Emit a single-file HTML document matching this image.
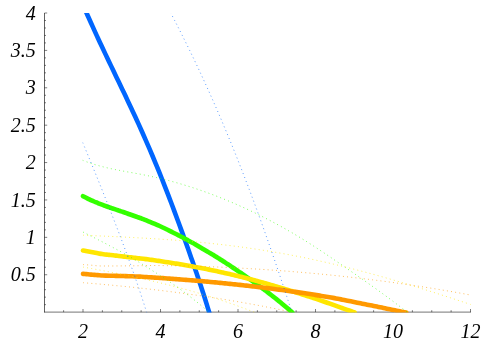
<!DOCTYPE html>
<html><head><meta charset="utf-8"><title>Plot</title>
<style>
html,body{margin:0;padding:0;background:#fff;}
body{width:491px;height:344px;overflow:hidden;font-family:"Liberation Serif",serif;}
svg{display:block;}
</style></head><body>
<svg width="491" height="344" viewBox="0 0 491 344">
<defs><clipPath id="c"><rect x="0.00" y="12.90" width="491.00" height="299.70"/></clipPath><mask id="m"><rect width="491" height="344" fill="#fff"/></mask></defs>
<rect width="491" height="344" fill="#fff"/>
<g stroke="#000" stroke-width="0.62" fill="none">
<line x1="44.50" y1="13.00" x2="44.50" y2="312.41"/>
<line x1="44.19" y1="312.10" x2="471.00" y2="312.10" stroke-width="0.55"/>
<line x1="63.62" y1="312.10" x2="63.62" y2="310.20" stroke-width="0.5"/>
<line x1="83.00" y1="312.10" x2="83.00" y2="309.00" stroke-width="0.5"/>
<line x1="102.38" y1="312.10" x2="102.38" y2="310.20" stroke-width="0.5"/>
<line x1="121.75" y1="312.10" x2="121.75" y2="310.20" stroke-width="0.5"/>
<line x1="141.12" y1="312.10" x2="141.12" y2="310.20" stroke-width="0.5"/>
<line x1="160.50" y1="312.10" x2="160.50" y2="309.00" stroke-width="0.5"/>
<line x1="179.88" y1="312.10" x2="179.88" y2="310.20" stroke-width="0.5"/>
<line x1="199.25" y1="312.10" x2="199.25" y2="310.20" stroke-width="0.5"/>
<line x1="218.62" y1="312.10" x2="218.62" y2="310.20" stroke-width="0.5"/>
<line x1="238.00" y1="312.10" x2="238.00" y2="309.00" stroke-width="0.5"/>
<line x1="257.38" y1="312.10" x2="257.38" y2="310.20" stroke-width="0.5"/>
<line x1="276.75" y1="312.10" x2="276.75" y2="310.20" stroke-width="0.5"/>
<line x1="296.12" y1="312.10" x2="296.12" y2="310.20" stroke-width="0.5"/>
<line x1="315.50" y1="312.10" x2="315.50" y2="309.00" stroke-width="0.5"/>
<line x1="334.88" y1="312.10" x2="334.88" y2="310.20" stroke-width="0.5"/>
<line x1="354.25" y1="312.10" x2="354.25" y2="310.20" stroke-width="0.5"/>
<line x1="373.62" y1="312.10" x2="373.62" y2="310.20" stroke-width="0.5"/>
<line x1="393.00" y1="312.10" x2="393.00" y2="309.00" stroke-width="0.5"/>
<line x1="412.38" y1="312.10" x2="412.38" y2="310.20" stroke-width="0.5"/>
<line x1="431.75" y1="312.10" x2="431.75" y2="310.20" stroke-width="0.5"/>
<line x1="451.12" y1="312.10" x2="451.12" y2="310.20" stroke-width="0.5"/>
<line x1="470.50" y1="312.10" x2="470.50" y2="309.00" stroke-width="0.5"/>
<line x1="44.50" y1="304.65" x2="46.00" y2="304.65" stroke-width="0.5"/>
<line x1="44.50" y1="297.17" x2="46.00" y2="297.17" stroke-width="0.5"/>
<line x1="44.50" y1="289.70" x2="46.00" y2="289.70" stroke-width="0.5"/>
<line x1="44.50" y1="282.22" x2="46.00" y2="282.22" stroke-width="0.5"/>
<line x1="44.50" y1="274.74" x2="47.20" y2="274.74" stroke-width="0.5"/>
<line x1="44.50" y1="267.26" x2="46.00" y2="267.26" stroke-width="0.5"/>
<line x1="44.50" y1="259.78" x2="46.00" y2="259.78" stroke-width="0.5"/>
<line x1="44.50" y1="252.31" x2="46.00" y2="252.31" stroke-width="0.5"/>
<line x1="44.50" y1="244.83" x2="46.00" y2="244.83" stroke-width="0.5"/>
<line x1="44.50" y1="237.35" x2="47.20" y2="237.35" stroke-width="0.5"/>
<line x1="44.50" y1="229.87" x2="46.00" y2="229.87" stroke-width="0.5"/>
<line x1="44.50" y1="222.39" x2="46.00" y2="222.39" stroke-width="0.5"/>
<line x1="44.50" y1="214.92" x2="46.00" y2="214.92" stroke-width="0.5"/>
<line x1="44.50" y1="207.44" x2="46.00" y2="207.44" stroke-width="0.5"/>
<line x1="44.50" y1="199.96" x2="47.20" y2="199.96" stroke-width="0.5"/>
<line x1="44.50" y1="192.48" x2="46.00" y2="192.48" stroke-width="0.5"/>
<line x1="44.50" y1="185.00" x2="46.00" y2="185.00" stroke-width="0.5"/>
<line x1="44.50" y1="177.53" x2="46.00" y2="177.53" stroke-width="0.5"/>
<line x1="44.50" y1="170.05" x2="46.00" y2="170.05" stroke-width="0.5"/>
<line x1="44.50" y1="162.57" x2="47.20" y2="162.57" stroke-width="0.5"/>
<line x1="44.50" y1="155.09" x2="46.00" y2="155.09" stroke-width="0.5"/>
<line x1="44.50" y1="147.61" x2="46.00" y2="147.61" stroke-width="0.5"/>
<line x1="44.50" y1="140.14" x2="46.00" y2="140.14" stroke-width="0.5"/>
<line x1="44.50" y1="132.66" x2="46.00" y2="132.66" stroke-width="0.5"/>
<line x1="44.50" y1="125.18" x2="47.20" y2="125.18" stroke-width="0.5"/>
<line x1="44.50" y1="117.70" x2="46.00" y2="117.70" stroke-width="0.5"/>
<line x1="44.50" y1="110.22" x2="46.00" y2="110.22" stroke-width="0.5"/>
<line x1="44.50" y1="102.75" x2="46.00" y2="102.75" stroke-width="0.5"/>
<line x1="44.50" y1="95.27" x2="46.00" y2="95.27" stroke-width="0.5"/>
<line x1="44.50" y1="87.79" x2="47.20" y2="87.79" stroke-width="0.5"/>
<line x1="44.50" y1="80.31" x2="46.00" y2="80.31" stroke-width="0.5"/>
<line x1="44.50" y1="72.83" x2="46.00" y2="72.83" stroke-width="0.5"/>
<line x1="44.50" y1="65.36" x2="46.00" y2="65.36" stroke-width="0.5"/>
<line x1="44.50" y1="57.88" x2="46.00" y2="57.88" stroke-width="0.5"/>
<line x1="44.50" y1="50.40" x2="47.20" y2="50.40" stroke-width="0.5"/>
<line x1="44.50" y1="42.92" x2="46.00" y2="42.92" stroke-width="0.5"/>
<line x1="44.50" y1="35.44" x2="46.00" y2="35.44" stroke-width="0.5"/>
<line x1="44.50" y1="27.97" x2="46.00" y2="27.97" stroke-width="0.5"/>
<line x1="44.50" y1="20.49" x2="46.00" y2="20.49" stroke-width="0.5"/>
<line x1="44.50" y1="13.01" x2="47.20" y2="13.01" stroke-width="0.5"/>
</g>
<g clip-path="url(#c)" fill="none" stroke-linejoin="round">
<path d="M83.81 6.85 C84.39 8.16 86.13 12.08 87.30 14.69 C88.47 17.30 89.63 19.91 90.81 22.52 C91.99 25.13 93.18 27.75 94.37 30.36 C95.56 32.97 96.76 35.59 97.97 38.20 C99.18 40.81 100.41 43.43 101.63 46.04 C102.85 48.65 104.08 51.26 105.32 53.87 C106.56 56.48 107.80 59.10 109.05 61.71 C110.30 64.32 111.56 66.94 112.81 69.55 C114.06 72.16 115.31 74.77 116.57 77.38 C117.82 79.99 119.09 82.61 120.34 85.22 C121.59 87.83 122.84 90.45 124.09 93.06 C125.34 95.67 126.58 98.29 127.81 100.90 C129.05 103.51 130.28 106.12 131.50 108.73 C132.72 111.34 133.94 113.96 135.14 116.57 C136.34 119.18 137.54 121.80 138.73 124.41 C139.91 127.02 141.09 129.63 142.25 132.24 C143.41 134.85 144.57 137.47 145.71 140.08 C146.85 142.69 147.99 145.31 149.11 147.92 C150.23 150.53 151.34 153.15 152.44 155.76 C153.54 158.37 154.62 160.98 155.70 163.59 C156.78 166.20 157.85 168.82 158.91 171.43 C159.97 174.04 161.01 176.66 162.05 179.27 C163.09 181.88 164.12 184.50 165.14 187.11 C166.16 189.72 167.17 192.33 168.18 194.94 C169.19 197.55 170.19 200.17 171.18 202.78 C172.17 205.39 173.15 208.01 174.13 210.62 C175.11 213.23 176.08 215.84 177.05 218.45 C178.02 221.06 178.97 223.68 179.93 226.29 C180.89 228.90 181.84 231.52 182.79 234.13 C183.74 236.74 184.67 239.36 185.61 241.97 C186.55 244.58 187.48 247.19 188.41 249.80 C189.34 252.41 190.25 255.03 191.17 257.64 C192.08 260.25 193.00 262.87 193.90 265.48 C194.80 268.09 195.70 270.70 196.59 273.31 C197.48 275.92 198.37 278.54 199.24 281.15 C200.11 283.76 200.98 286.38 201.83 288.99 C202.69 291.60 203.54 294.22 204.37 296.83 C205.20 299.44 206.02 302.05 206.83 304.66 C207.64 307.27 208.83 311.19 209.23 312.50" stroke="#0066FF" stroke-width="4.6" stroke-linecap="round"/>
<path d="M83.00 196.16 C83.35 196.35 84.41 196.92 85.11 197.28 C85.81 197.64 86.53 198.00 87.23 198.34 C87.94 198.69 88.64 199.02 89.34 199.35 C90.05 199.68 90.75 200.01 91.46 200.33 C92.16 200.65 92.87 200.95 93.57 201.26 C94.27 201.56 94.98 201.87 95.68 202.16 C96.39 202.45 97.09 202.75 97.80 203.03 C98.50 203.31 99.20 203.59 99.91 203.86 C100.61 204.14 101.33 204.41 102.03 204.68 C102.73 204.95 103.44 205.21 104.14 205.47 C104.84 205.73 105.56 205.99 106.26 206.24 C106.97 206.49 107.67 206.74 108.37 206.99 C109.07 207.24 109.78 207.48 110.48 207.73 C111.19 207.97 111.89 208.22 112.60 208.46 C113.30 208.70 114.00 208.94 114.71 209.18 C115.41 209.42 116.12 209.66 116.83 209.90 C117.53 210.14 118.24 210.38 118.94 210.62 C119.64 210.86 120.34 211.09 121.05 211.33 C121.75 211.57 122.47 211.81 123.17 212.05 C123.88 212.29 124.58 212.53 125.28 212.77 C125.98 213.01 126.70 213.25 127.40 213.49 C128.11 213.73 128.81 213.97 129.51 214.22 C130.21 214.47 130.92 214.71 131.63 214.96 C132.34 215.21 133.04 215.46 133.74 215.71 C134.44 215.96 135.14 216.22 135.85 216.47 C136.56 216.72 137.26 216.98 137.97 217.24 C138.68 217.50 139.38 217.76 140.08 218.02 C140.79 218.28 141.50 218.55 142.20 218.82 C142.90 219.09 143.61 219.36 144.31 219.63 C145.01 219.90 145.71 220.17 146.42 220.45 C147.12 220.73 147.83 221.01 148.54 221.29 C149.25 221.57 149.94 221.86 150.65 222.15 C151.36 222.44 152.06 222.73 152.77 223.03 C153.48 223.33 154.18 223.63 154.88 223.93 C155.58 224.23 156.28 224.53 156.99 224.84 C157.70 225.15 158.41 225.46 159.11 225.78 C159.81 226.10 160.51 226.42 161.22 226.74 C161.93 227.06 162.63 227.39 163.34 227.73 C164.05 228.07 164.75 228.41 165.45 228.76 C166.15 229.11 166.86 229.46 167.57 229.81 C168.28 230.16 168.98 230.52 169.68 230.87 C170.38 231.22 171.08 231.58 171.79 231.93 C172.50 232.28 173.20 232.64 173.91 232.99 C174.62 233.34 175.31 233.69 176.02 234.04 C176.73 234.39 177.44 234.75 178.14 235.11 C178.84 235.47 179.55 235.82 180.25 236.19 C180.95 236.56 181.66 236.93 182.36 237.30 C183.06 237.67 183.77 238.04 184.48 238.42 C185.19 238.80 185.88 239.18 186.59 239.56 C187.30 239.94 188.00 240.33 188.71 240.72 C189.42 241.11 190.12 241.50 190.82 241.89 C191.52 242.28 192.23 242.68 192.94 243.08 C193.65 243.48 194.35 243.88 195.05 244.29 C195.75 244.69 196.45 245.10 197.16 245.51 C197.87 245.92 198.57 246.33 199.28 246.75 C199.99 247.17 200.69 247.59 201.39 248.01 C202.09 248.43 202.80 248.86 203.51 249.28 C204.22 249.70 204.92 250.12 205.62 250.53 C206.32 250.94 207.02 251.35 207.73 251.76 C208.44 252.17 209.14 252.57 209.85 252.98 C210.56 253.39 211.25 253.80 211.96 254.22 C212.67 254.64 213.38 255.05 214.08 255.48 C214.79 255.91 215.49 256.34 216.19 256.78 C216.89 257.22 217.61 257.67 218.31 258.11 C219.01 258.56 219.72 259.00 220.42 259.45 C221.12 259.90 221.82 260.35 222.53 260.80 C223.24 261.25 223.94 261.71 224.65 262.17 C225.36 262.63 226.06 263.09 226.76 263.55 C227.46 264.01 228.17 264.48 228.88 264.94 C229.59 265.40 230.29 265.87 230.99 266.34 C231.69 266.81 232.39 267.28 233.10 267.75 C233.81 268.22 234.51 268.69 235.22 269.17 C235.93 269.65 236.62 270.12 237.33 270.60 C238.04 271.08 238.75 271.56 239.45 272.04 C240.15 272.52 240.86 273.00 241.56 273.49 C242.26 273.98 242.96 274.46 243.67 274.95 C244.38 275.44 245.08 275.93 245.79 276.42 C246.50 276.91 247.19 277.41 247.90 277.91 C248.61 278.41 249.31 278.90 250.02 279.40 C250.73 279.90 251.43 280.40 252.13 280.90 C252.83 281.40 253.54 281.90 254.25 282.40 C254.96 282.90 255.66 283.41 256.36 283.92 C257.06 284.43 257.77 284.94 258.47 285.45 C259.18 285.96 259.88 286.47 260.59 286.98 C261.29 287.50 262.00 288.02 262.70 288.54 C263.40 289.06 264.12 289.59 264.82 290.12 C265.52 290.65 266.23 291.17 266.93 291.71 C267.63 292.25 268.34 292.78 269.04 293.33 C269.75 293.88 270.46 294.43 271.16 294.98 C271.87 295.53 272.56 296.08 273.27 296.64 C273.97 297.20 274.69 297.76 275.39 298.32 C276.09 298.88 276.80 299.45 277.50 300.02 C278.20 300.59 278.92 301.16 279.62 301.73 C280.32 302.31 281.03 302.89 281.73 303.47 C282.43 304.05 283.13 304.63 283.84 305.22 C284.54 305.81 285.25 306.40 285.96 307.00 C286.66 307.60 287.37 308.20 288.07 308.81 C288.77 309.42 289.49 310.02 290.19 310.64 C290.89 311.25 291.95 312.19 292.30 312.50" stroke="#33FF00" stroke-width="4.6" stroke-linecap="round"/>
<path d="M83.00 250.52 C83.46 250.61 84.82 250.88 85.74 251.05 C86.66 251.23 87.57 251.40 88.49 251.57 C89.41 251.74 90.32 251.91 91.23 252.08 C92.14 252.25 93.06 252.41 93.97 252.58 C94.88 252.75 95.81 252.93 96.72 253.10 C97.63 253.27 98.55 253.46 99.46 253.62 C100.37 253.78 101.28 253.94 102.20 254.08 C103.12 254.22 104.03 254.34 104.95 254.45 C105.87 254.56 106.78 254.64 107.69 254.73 C108.60 254.82 109.52 254.90 110.43 254.99 C111.35 255.09 112.27 255.20 113.18 255.30 C114.09 255.41 115.01 255.51 115.92 255.62 C116.83 255.73 117.75 255.84 118.66 255.95 C119.57 256.06 120.49 256.17 121.41 256.28 C122.33 256.39 123.24 256.50 124.15 256.61 C125.06 256.72 125.98 256.83 126.89 256.94 C127.80 257.05 128.72 257.15 129.64 257.26 C130.55 257.37 131.47 257.47 132.38 257.57 C133.29 257.67 134.22 257.77 135.13 257.88 C136.04 257.99 136.96 258.09 137.87 258.20 C138.78 258.31 139.70 258.41 140.61 258.52 C141.53 258.62 142.45 258.72 143.36 258.83 C144.28 258.94 145.19 259.04 146.10 259.15 C147.01 259.26 147.93 259.38 148.84 259.50 C149.75 259.62 150.68 259.74 151.59 259.87 C152.50 260.00 153.42 260.13 154.33 260.26 C155.24 260.39 156.16 260.53 157.07 260.66 C157.98 260.79 158.91 260.92 159.82 261.06 C160.73 261.20 161.65 261.34 162.56 261.48 C163.47 261.62 164.39 261.76 165.30 261.90 C166.22 262.04 167.14 262.18 168.05 262.32 C168.97 262.46 169.88 262.61 170.79 262.75 C171.70 262.89 172.62 263.04 173.53 263.19 C174.44 263.34 175.37 263.48 176.28 263.63 C177.19 263.78 178.11 263.93 179.02 264.08 C179.93 264.23 180.84 264.39 181.76 264.54 C182.67 264.69 183.59 264.84 184.51 265.00 C185.42 265.16 186.34 265.32 187.25 265.48 C188.16 265.64 189.08 265.80 189.99 265.96 C190.91 266.12 191.83 266.29 192.74 266.46 C193.66 266.63 194.57 266.79 195.48 266.96 C196.39 267.13 197.31 267.30 198.22 267.47 C199.13 267.64 200.06 267.82 200.97 268.00 C201.88 268.18 202.80 268.35 203.71 268.53 C204.62 268.71 205.53 268.89 206.45 269.07 C207.36 269.25 208.28 269.43 209.20 269.62 C210.11 269.81 211.03 270.00 211.94 270.19 C212.85 270.38 213.77 270.57 214.68 270.76 C215.59 270.95 216.52 271.15 217.43 271.35 C218.34 271.55 219.25 271.74 220.17 271.94 C221.08 272.14 222.00 272.35 222.92 272.55 C223.83 272.75 224.75 272.95 225.66 273.16 C226.57 273.37 227.49 273.58 228.40 273.79 C229.31 274.00 230.24 274.22 231.15 274.43 C232.06 274.64 232.98 274.86 233.89 275.08 C234.80 275.30 235.72 275.52 236.63 275.74 C237.54 275.96 238.47 276.19 239.38 276.41 C240.29 276.63 241.21 276.86 242.12 277.09 C243.03 277.32 243.95 277.56 244.86 277.79 C245.78 278.02 246.70 278.25 247.61 278.49 C248.53 278.73 249.44 278.97 250.35 279.21 C251.26 279.45 252.18 279.69 253.09 279.93 C254.00 280.17 254.93 280.42 255.84 280.67 C256.75 280.92 257.67 281.17 258.58 281.42 C259.49 281.67 260.40 281.93 261.32 282.18 C262.24 282.44 263.15 282.69 264.07 282.95 C264.99 283.21 265.90 283.46 266.81 283.72 C267.72 283.98 268.63 284.25 269.55 284.51 C270.47 284.77 271.38 285.04 272.30 285.31 C273.22 285.58 274.13 285.84 275.04 286.11 C275.95 286.38 276.87 286.65 277.78 286.92 C278.69 287.19 279.61 287.46 280.53 287.73 C281.44 288.00 282.36 288.27 283.27 288.54 C284.18 288.81 285.09 289.09 286.01 289.36 C286.93 289.63 287.84 289.91 288.76 290.19 C289.68 290.47 290.59 290.74 291.50 291.02 C292.41 291.30 293.32 291.58 294.24 291.86 C295.16 292.14 296.07 292.44 296.99 292.72 C297.91 293.00 298.82 293.28 299.73 293.57 C300.64 293.86 301.56 294.15 302.47 294.44 C303.39 294.73 304.31 295.02 305.22 295.32 C306.13 295.62 307.04 295.91 307.96 296.21 C308.88 296.51 309.79 296.81 310.71 297.11 C311.62 297.41 312.54 297.71 313.45 298.02 C314.36 298.32 315.27 298.63 316.19 298.94 C317.11 299.25 318.02 299.57 318.94 299.88 C319.86 300.19 320.77 300.50 321.68 300.82 C322.59 301.14 323.50 301.46 324.42 301.78 C325.34 302.10 326.25 302.41 327.17 302.73 C328.09 303.05 329.00 303.37 329.91 303.69 C330.82 304.01 331.74 304.34 332.65 304.66 C333.56 304.98 334.48 305.31 335.40 305.63 C336.31 305.95 337.23 306.29 338.14 306.61 C339.05 306.94 339.96 307.25 340.88 307.58 C341.80 307.90 342.71 308.23 343.63 308.56 C344.55 308.89 345.46 309.21 346.37 309.54 C347.28 309.87 348.19 310.20 349.11 310.53 C350.03 310.86 350.94 311.18 351.86 311.51 C352.78 311.84 354.14 312.33 354.60 312.50" stroke="#FFE600" stroke-width="4.6" stroke-linecap="round"/>
<path d="M83.00 273.86 C83.55 273.91 85.18 274.06 86.27 274.16 C87.36 274.26 88.44 274.36 89.53 274.45 C90.62 274.54 91.71 274.63 92.80 274.72 C93.89 274.81 94.97 274.89 96.06 274.97 C97.15 275.05 98.24 275.14 99.33 275.22 C100.42 275.30 101.50 275.38 102.59 275.44 C103.68 275.50 104.77 275.56 105.86 275.60 C106.95 275.64 108.04 275.67 109.13 275.70 C110.22 275.73 111.30 275.75 112.39 275.78 C113.48 275.81 114.57 275.83 115.66 275.86 C116.75 275.89 117.83 275.92 118.92 275.94 C120.01 275.96 121.10 275.99 122.19 276.01 C123.28 276.03 124.36 276.06 125.45 276.09 C126.54 276.12 127.63 276.15 128.72 276.19 C129.81 276.23 130.89 276.26 131.98 276.30 C133.07 276.34 134.16 276.38 135.25 276.43 C136.34 276.48 137.43 276.52 138.52 276.58 C139.61 276.64 140.69 276.70 141.78 276.77 C142.87 276.83 143.96 276.90 145.05 276.97 C146.14 277.04 147.22 277.11 148.31 277.18 C149.40 277.25 150.49 277.31 151.58 277.38 C152.67 277.45 153.75 277.53 154.84 277.60 C155.93 277.67 157.02 277.74 158.11 277.81 C159.20 277.88 160.29 277.97 161.38 278.04 C162.47 278.12 163.55 278.19 164.64 278.26 C165.73 278.33 166.82 278.41 167.91 278.49 C169.00 278.57 170.08 278.65 171.17 278.73 C172.26 278.81 173.35 278.89 174.44 278.97 C175.53 279.05 176.61 279.13 177.70 279.21 C178.79 279.29 179.88 279.38 180.97 279.46 C182.06 279.54 183.15 279.63 184.24 279.72 C185.33 279.81 186.41 279.89 187.50 279.98 C188.59 280.07 189.68 280.16 190.77 280.25 C191.86 280.34 192.94 280.43 194.03 280.52 C195.12 280.61 196.21 280.70 197.30 280.79 C198.39 280.88 199.47 280.98 200.56 281.07 C201.65 281.16 202.74 281.26 203.83 281.36 C204.92 281.46 206.00 281.55 207.09 281.65 C208.18 281.75 209.27 281.85 210.36 281.95 C211.45 282.05 212.54 282.15 213.63 282.25 C214.72 282.35 215.80 282.45 216.89 282.56 C217.98 282.67 219.07 282.77 220.16 282.88 C221.25 282.99 222.33 283.09 223.42 283.20 C224.51 283.31 225.60 283.42 226.69 283.53 C227.78 283.64 228.86 283.75 229.95 283.86 C231.04 283.97 232.13 284.09 233.22 284.20 C234.31 284.31 235.40 284.43 236.49 284.54 C237.58 284.66 238.66 284.77 239.75 284.89 C240.84 285.01 241.93 285.13 243.02 285.25 C244.11 285.37 245.19 285.50 246.28 285.62 C247.37 285.74 248.46 285.87 249.55 285.99 C250.64 286.11 251.72 286.23 252.81 286.36 C253.90 286.49 254.99 286.62 256.08 286.75 C257.17 286.88 258.26 287.01 259.35 287.14 C260.44 287.27 261.52 287.41 262.61 287.54 C263.70 287.67 264.79 287.81 265.88 287.94 C266.97 288.07 268.05 288.21 269.14 288.35 C270.23 288.49 271.32 288.63 272.41 288.77 C273.50 288.91 274.58 289.05 275.67 289.19 C276.76 289.33 277.85 289.49 278.94 289.63 C280.03 289.77 281.12 289.91 282.21 290.06 C283.30 290.21 284.38 290.36 285.47 290.51 C286.56 290.66 287.65 290.81 288.74 290.96 C289.83 291.11 290.91 291.26 292.00 291.42 C293.09 291.58 294.18 291.73 295.27 291.89 C296.36 292.05 297.44 292.21 298.53 292.37 C299.62 292.53 300.71 292.69 301.80 292.85 C302.89 293.01 303.97 293.17 305.06 293.34 C306.15 293.50 307.24 293.67 308.33 293.84 C309.42 294.01 310.51 294.17 311.60 294.34 C312.69 294.51 313.77 294.68 314.86 294.85 C315.95 295.02 317.04 295.19 318.13 295.37 C319.22 295.55 320.30 295.72 321.39 295.90 C322.48 296.08 323.57 296.26 324.66 296.44 C325.75 296.62 326.83 296.80 327.92 296.98 C329.01 297.16 330.10 297.35 331.19 297.54 C332.28 297.73 333.37 297.92 334.46 298.12 C335.55 298.32 336.63 298.53 337.72 298.74 C338.81 298.95 339.90 299.17 340.99 299.38 C342.08 299.59 343.16 299.81 344.25 300.03 C345.34 300.25 346.43 300.47 347.52 300.68 C348.61 300.89 349.69 301.11 350.78 301.32 C351.87 301.53 352.96 301.75 354.05 301.97 C355.14 302.19 356.23 302.41 357.32 302.63 C358.41 302.85 359.49 303.08 360.58 303.30 C361.67 303.52 362.76 303.75 363.85 303.97 C364.94 304.19 366.02 304.41 367.11 304.63 C368.20 304.85 369.29 305.07 370.38 305.29 C371.47 305.51 372.55 305.72 373.64 305.94 C374.73 306.16 375.82 306.38 376.91 306.60 C378.00 306.82 379.08 307.04 380.17 307.27 C381.26 307.50 382.35 307.72 383.44 307.95 C384.53 308.18 385.62 308.40 386.71 308.63 C387.80 308.86 388.88 309.08 389.97 309.31 C391.06 309.54 392.15 309.77 393.24 310.00 C394.33 310.23 395.41 310.45 396.50 310.67 C397.59 310.89 398.68 311.11 399.77 311.32 C400.86 311.53 401.94 311.74 403.03 311.94 C404.12 312.14 405.75 312.41 406.30 312.50" stroke="#FF9900" stroke-width="4.6" stroke-linecap="round"/>
<path d="M82.79 142.70 C83.09 143.42 83.99 145.60 84.59 147.05 C85.19 148.50 85.79 149.96 86.39 151.41 C86.99 152.86 87.58 154.31 88.18 155.76 C88.78 157.21 89.37 158.67 89.97 160.12 C90.57 161.57 91.17 163.02 91.76 164.47 C92.36 165.92 92.95 167.37 93.54 168.82 C94.13 170.27 94.73 171.73 95.32 173.18 C95.91 174.63 96.50 176.08 97.09 177.53 C97.68 178.98 98.26 180.43 98.85 181.88 C99.44 183.33 100.03 184.79 100.61 186.24 C101.19 187.69 101.78 189.14 102.36 190.59 C102.94 192.04 103.52 193.50 104.10 194.95 C104.68 196.40 105.26 197.85 105.84 199.30 C106.42 200.75 106.99 202.20 107.57 203.65 C108.14 205.10 108.72 206.56 109.29 208.01 C109.86 209.46 110.43 210.91 111.00 212.36 C111.57 213.81 112.14 215.27 112.70 216.72 C113.27 218.17 113.83 219.62 114.39 221.07 C114.95 222.52 115.51 223.97 116.07 225.42 C116.63 226.87 117.19 228.33 117.74 229.78 C118.29 231.23 118.84 232.68 119.39 234.13 C119.94 235.58 120.49 237.03 121.04 238.48 C121.59 239.93 122.13 241.39 122.67 242.84 C123.21 244.29 123.75 245.74 124.29 247.19 C124.83 248.64 125.36 250.10 125.89 251.55 C126.42 253.00 126.95 254.45 127.48 255.90 C128.01 257.35 128.54 258.80 129.06 260.25 C129.58 261.70 130.10 263.16 130.62 264.61 C131.14 266.06 131.66 267.51 132.17 268.96 C132.68 270.41 133.19 271.87 133.70 273.32 C134.21 274.77 134.72 276.22 135.22 277.67 C135.72 279.12 136.21 280.57 136.71 282.02 C137.21 283.47 137.71 284.93 138.20 286.38 C138.69 287.83 139.18 289.28 139.66 290.73 C140.14 292.18 140.62 293.63 141.10 295.08 C141.58 296.53 142.06 297.99 142.53 299.44 C143.00 300.89 143.47 302.34 143.94 303.79 C144.41 305.24 144.86 306.70 145.32 308.15 C145.78 309.60 146.46 311.77 146.69 312.50" stroke="#0066FF" stroke-width="0.9" stroke-dasharray="0.9 3.3" stroke-opacity="0.78"/>
<path d="M170.50 12.50 C171.17 13.78 173.18 17.63 174.51 20.19 C175.84 22.75 177.15 25.31 178.46 27.88 C179.77 30.45 181.06 33.02 182.35 35.58 C183.64 38.14 184.91 40.71 186.18 43.27 C187.45 45.83 188.70 48.40 189.95 50.96 C191.20 53.52 192.44 56.09 193.67 58.65 C194.90 61.21 196.12 63.78 197.33 66.35 C198.54 68.91 199.74 71.48 200.93 74.04 C202.12 76.60 203.31 79.17 204.48 81.73 C205.65 84.29 206.82 86.86 207.98 89.42 C209.14 91.98 210.29 94.56 211.43 97.12 C212.57 99.69 213.71 102.25 214.83 104.81 C215.95 107.37 217.06 109.94 218.17 112.50 C219.28 115.06 220.39 117.63 221.48 120.19 C222.57 122.75 223.65 125.31 224.73 127.88 C225.81 130.44 226.88 133.02 227.94 135.58 C229.00 138.15 230.06 140.71 231.11 143.27 C232.16 145.83 233.20 148.40 234.23 150.96 C235.26 153.52 236.29 156.09 237.31 158.65 C238.33 161.22 239.34 163.78 240.35 166.35 C241.36 168.91 242.36 171.48 243.35 174.04 C244.34 176.60 245.33 179.17 246.31 181.73 C247.29 184.29 248.27 186.85 249.24 189.42 C250.21 191.98 251.17 194.56 252.13 197.12 C253.09 199.69 254.04 202.25 254.99 204.81 C255.94 207.37 256.88 209.94 257.81 212.50 C258.75 215.06 259.68 217.63 260.60 220.19 C261.53 222.75 262.45 225.31 263.36 227.88 C264.27 230.44 265.18 233.02 266.08 235.58 C266.98 238.15 267.88 240.71 268.78 243.27 C269.67 245.83 270.56 248.40 271.45 250.96 C272.34 253.52 273.22 256.08 274.10 258.65 C274.98 261.21 275.85 263.79 276.72 266.35 C277.59 268.92 278.46 271.48 279.32 274.04 C280.18 276.60 281.04 279.17 281.89 281.73 C282.74 284.29 283.59 286.86 284.44 289.42 C285.29 291.99 286.13 294.56 286.97 297.12 C287.81 299.69 288.65 302.25 289.48 304.81 C290.31 307.37 291.56 311.22 291.97 312.50" stroke="#0066FF" stroke-width="0.9" stroke-dasharray="0.9 3.3" stroke-opacity="0.78"/>
<path d="M82.70 160.31 C83.39 160.57 85.44 161.38 86.81 161.88 C88.18 162.38 89.56 162.85 90.93 163.31 C92.30 163.77 93.67 164.20 95.04 164.61 C96.41 165.02 97.78 165.41 99.15 165.79 C100.52 166.17 101.89 166.53 103.26 166.87 C104.63 167.22 106.01 167.54 107.38 167.86 C108.75 168.18 110.12 168.48 111.49 168.78 C112.86 169.08 114.23 169.36 115.60 169.64 C116.97 169.92 118.34 170.18 119.71 170.44 C121.08 170.70 122.46 170.96 123.83 171.21 C125.20 171.46 126.57 171.71 127.94 171.96 C129.31 172.21 130.68 172.45 132.05 172.70 C133.42 172.95 134.79 173.19 136.16 173.44 C137.53 173.69 138.91 173.94 140.28 174.20 C141.65 174.46 143.02 174.73 144.39 175.00 C145.76 175.27 147.13 175.55 148.50 175.83 C149.87 176.12 151.25 176.41 152.62 176.71 C153.99 177.01 155.36 177.32 156.73 177.64 C158.10 177.96 159.47 178.28 160.84 178.61 C162.21 178.94 163.58 179.28 164.95 179.62 C166.32 179.97 167.70 180.32 169.07 180.68 C170.44 181.04 171.81 181.41 173.18 181.79 C174.55 182.17 175.92 182.55 177.29 182.94 C178.66 183.33 180.03 183.73 181.40 184.14 C182.77 184.55 184.15 184.96 185.52 185.38 C186.89 185.80 188.26 186.22 189.63 186.66 C191.00 187.09 192.37 187.54 193.74 187.99 C195.11 188.44 196.48 188.90 197.85 189.36 C199.22 189.83 200.60 190.30 201.97 190.78 C203.34 191.26 204.71 191.75 206.08 192.24 C207.45 192.74 208.82 193.24 210.19 193.75 C211.56 194.26 212.94 194.78 214.31 195.30 C215.68 195.82 217.05 196.35 218.42 196.89 C219.79 197.43 221.16 197.98 222.53 198.53 C223.90 199.08 225.27 199.64 226.64 200.21 C228.01 200.78 229.39 201.35 230.76 201.93 C232.13 202.51 233.50 203.10 234.87 203.70 C236.24 204.30 237.61 204.90 238.98 205.51 C240.35 206.12 241.72 206.74 243.09 207.36 C244.46 207.98 245.84 208.61 247.21 209.25 C248.58 209.89 249.95 210.54 251.32 211.19 C252.69 211.84 254.06 212.50 255.43 213.17 C256.80 213.84 258.17 214.52 259.54 215.20 C260.91 215.88 262.29 216.56 263.66 217.26 C265.03 217.95 266.40 218.66 267.77 219.37 C269.14 220.08 270.51 220.80 271.88 221.53 C273.25 222.26 274.62 222.99 275.99 223.73 C277.36 224.47 278.74 225.21 280.11 225.97 C281.48 226.73 282.85 227.50 284.22 228.27 C285.59 229.04 286.96 229.82 288.33 230.61 C289.70 231.40 291.08 232.19 292.45 232.99 C293.82 233.79 295.19 234.61 296.56 235.43 C297.93 236.25 299.30 237.08 300.67 237.92 C302.04 238.76 303.41 239.60 304.78 240.45 C306.15 241.30 307.53 242.17 308.90 243.04 C310.27 243.91 311.64 244.79 313.01 245.67 C314.38 246.55 315.75 247.44 317.12 248.34 C318.49 249.24 319.86 250.13 321.23 251.04 C322.60 251.95 323.98 252.86 325.35 253.78 C326.72 254.70 328.09 255.62 329.46 256.55 C330.83 257.48 332.20 258.41 333.57 259.34 C334.94 260.27 336.31 261.21 337.68 262.15 C339.05 263.09 340.43 264.03 341.80 264.97 C343.17 265.91 344.54 266.86 345.91 267.81 C347.28 268.76 348.65 269.71 350.02 270.66 C351.39 271.61 352.77 272.56 354.14 273.51 C355.51 274.46 356.88 275.42 358.25 276.37 C359.62 277.32 360.99 278.27 362.36 279.23 C363.73 280.19 365.10 281.16 366.47 282.12 C367.84 283.08 369.22 284.05 370.59 285.02 C371.96 285.99 373.33 286.96 374.70 287.94 C376.07 288.92 377.44 289.89 378.81 290.88 C380.18 291.87 381.55 292.86 382.92 293.86 C384.29 294.86 385.67 295.85 387.04 296.86 C388.41 297.87 389.78 298.88 391.15 299.90 C392.52 300.92 393.89 301.95 395.26 302.98 C396.63 304.01 398.00 305.05 399.37 306.10 C400.74 307.15 402.12 308.20 403.49 309.27 C404.86 310.33 406.92 311.95 407.60 312.49" stroke="#33FF00" stroke-width="0.9" stroke-dasharray="0.9 3.3" stroke-opacity="0.78"/>
<path d="M83.00 232.04 C83.21 232.15 83.85 232.47 84.27 232.68 C84.69 232.89 85.12 233.11 85.54 233.32 C85.96 233.53 86.38 233.74 86.80 233.95 C87.22 234.16 87.65 234.38 88.07 234.59 C88.49 234.80 88.92 235.02 89.34 235.23 C89.76 235.44 90.19 235.66 90.61 235.87 C91.03 236.09 91.45 236.31 91.87 236.52 C92.29 236.74 92.72 236.94 93.14 237.16 C93.56 237.38 93.99 237.59 94.41 237.81 C94.83 238.03 95.26 238.23 95.68 238.45 C96.10 238.66 96.52 238.88 96.94 239.10 C97.36 239.32 97.79 239.53 98.21 239.75 C98.63 239.97 99.06 240.18 99.48 240.40 C99.90 240.62 100.33 240.84 100.75 241.06 C101.17 241.28 101.60 241.49 102.02 241.71 C102.44 241.93 102.86 242.15 103.28 242.37 C103.70 242.59 104.13 242.81 104.55 243.03 C104.97 243.25 105.40 243.47 105.82 243.69 C106.24 243.91 106.67 244.13 107.09 244.35 C107.51 244.57 107.93 244.80 108.35 245.02 C108.77 245.24 109.20 245.47 109.62 245.69 C110.04 245.91 110.47 246.14 110.89 246.36 C111.31 246.58 111.74 246.81 112.16 247.03 C112.58 247.25 113.00 247.48 113.42 247.71 C113.84 247.94 114.27 248.16 114.69 248.39 C115.11 248.62 115.54 248.84 115.96 249.07 C116.38 249.30 116.81 249.52 117.23 249.75 C117.65 249.98 118.07 250.21 118.49 250.44 C118.91 250.67 119.34 250.90 119.76 251.13 C120.18 251.36 120.61 251.60 121.03 251.83 C121.45 252.06 121.88 252.29 122.30 252.52 C122.72 252.75 123.15 252.99 123.57 253.22 C123.99 253.45 124.41 253.69 124.83 253.93 C125.25 254.17 125.68 254.39 126.10 254.63 C126.52 254.87 126.95 255.10 127.37 255.34 C127.79 255.58 128.22 255.82 128.64 256.06 C129.06 256.30 129.48 256.53 129.90 256.77 C130.32 257.01 130.75 257.25 131.17 257.50 C131.59 257.75 132.02 257.99 132.44 258.24 C132.86 258.49 133.29 258.74 133.71 258.99 C134.13 259.24 134.55 259.49 134.97 259.74 C135.39 259.99 135.82 260.25 136.24 260.51 C136.66 260.77 137.09 261.03 137.51 261.29 C137.93 261.55 138.36 261.81 138.78 262.07 C139.20 262.33 139.63 262.60 140.05 262.86 C140.47 263.12 140.89 263.38 141.31 263.65 C141.73 263.91 142.16 264.19 142.58 264.45 C143.00 264.71 143.43 264.98 143.85 265.24 C144.27 265.50 144.70 265.77 145.12 266.04 C145.54 266.31 145.96 266.57 146.38 266.84 C146.80 267.11 147.23 267.38 147.65 267.64 C148.07 267.90 148.50 268.17 148.92 268.43 C149.34 268.69 149.77 268.96 150.19 269.22 C150.61 269.48 151.03 269.75 151.45 270.01 C151.87 270.27 152.30 270.55 152.72 270.81 C153.14 271.07 153.57 271.34 153.99 271.60 C154.41 271.87 154.84 272.13 155.26 272.40 C155.68 272.67 156.11 272.93 156.53 273.20 C156.95 273.47 157.37 273.74 157.79 274.01 C158.21 274.28 158.64 274.55 159.06 274.82 C159.48 275.09 159.91 275.36 160.33 275.63 C160.75 275.90 161.18 276.18 161.60 276.45 C162.02 276.72 162.44 277.00 162.86 277.28 C163.28 277.56 163.71 277.83 164.13 278.11 C164.55 278.39 164.98 278.67 165.40 278.95 C165.82 279.23 166.25 279.51 166.67 279.79 C167.09 280.07 167.51 280.36 167.93 280.64 C168.35 280.92 168.78 281.21 169.20 281.50 C169.62 281.79 170.05 282.07 170.47 282.36 C170.89 282.65 171.32 282.94 171.74 283.23 C172.16 283.52 172.59 283.82 173.01 284.11 C173.43 284.40 173.85 284.69 174.27 284.99 C174.69 285.29 175.12 285.58 175.54 285.88 C175.96 286.18 176.39 286.47 176.81 286.77 C177.23 287.07 177.66 287.37 178.08 287.67 C178.50 287.97 178.92 288.27 179.34 288.58 C179.76 288.88 180.19 289.19 180.61 289.50 C181.03 289.81 181.46 290.11 181.88 290.42 C182.30 290.73 182.73 291.04 183.15 291.35 C183.57 291.66 183.99 291.98 184.41 292.29 C184.83 292.61 185.26 292.92 185.68 293.24 C186.10 293.56 186.53 293.88 186.95 294.20 C187.37 294.52 187.80 294.85 188.22 295.17 C188.64 295.50 189.06 295.82 189.48 296.15 C189.90 296.48 190.33 296.81 190.75 297.14 C191.17 297.47 191.60 297.81 192.02 298.14 C192.44 298.47 192.87 298.80 193.29 299.14 C193.71 299.48 194.14 299.82 194.56 300.16 C194.98 300.50 195.40 300.84 195.82 301.18 C196.24 301.52 196.67 301.87 197.09 302.21 C197.51 302.55 197.94 302.89 198.36 303.24 C198.78 303.59 199.21 303.94 199.63 304.29 C200.05 304.64 200.47 304.99 200.89 305.34 C201.31 305.69 201.74 306.04 202.16 306.40 C202.58 306.75 203.01 307.11 203.43 307.47 C203.85 307.83 204.28 308.19 204.70 308.55 C205.12 308.91 205.54 309.27 205.96 309.64 C206.38 310.00 206.81 310.37 207.23 310.74 C207.65 311.11 208.29 311.66 208.50 311.84" stroke="#33FF00" stroke-width="0.9" stroke-dasharray="0.9 3.3" stroke-opacity="0.78"/>
<path d="M83.00 235.16 C83.65 235.19 85.60 235.28 86.91 235.34 C88.22 235.40 89.53 235.46 90.83 235.52 C92.13 235.58 93.44 235.64 94.74 235.70 C96.04 235.76 97.35 235.82 98.66 235.88 C99.97 235.94 101.27 236.00 102.57 236.06 C103.87 236.12 105.17 236.18 106.48 236.24 C107.79 236.30 109.09 236.36 110.40 236.42 C111.71 236.48 113.00 236.55 114.31 236.61 C115.62 236.67 116.93 236.73 118.23 236.79 C119.53 236.85 120.84 236.91 122.14 236.98 C123.44 237.04 124.75 237.11 126.06 237.18 C127.37 237.25 128.67 237.31 129.97 237.38 C131.27 237.45 132.57 237.51 133.88 237.58 C135.19 237.65 136.50 237.72 137.80 237.79 C139.11 237.86 140.41 237.94 141.71 238.01 C143.02 238.08 144.32 238.15 145.63 238.23 C146.94 238.31 148.24 238.38 149.54 238.46 C150.84 238.54 152.14 238.62 153.45 238.70 C154.75 238.78 156.06 238.87 157.37 238.95 C158.68 239.03 159.97 239.11 161.28 239.20 C162.59 239.29 163.89 239.38 165.20 239.47 C166.50 239.56 167.81 239.65 169.11 239.74 C170.42 239.83 171.72 239.93 173.03 240.03 C174.34 240.13 175.64 240.22 176.94 240.32 C178.24 240.42 179.54 240.53 180.85 240.63 C182.16 240.73 183.47 240.84 184.77 240.95 C186.08 241.06 187.38 241.17 188.68 241.28 C189.99 241.39 191.29 241.50 192.60 241.62 C193.91 241.74 195.21 241.86 196.51 241.98 C197.81 242.10 199.11 242.22 200.42 242.35 C201.72 242.47 203.03 242.60 204.34 242.73 C205.65 242.86 206.94 242.99 208.25 243.12 C209.56 243.25 210.86 243.39 212.17 243.53 C213.47 243.67 214.78 243.82 216.08 243.96 C217.38 244.10 218.69 244.24 219.99 244.39 C221.30 244.54 222.60 244.69 223.91 244.85 C225.22 245.00 226.51 245.16 227.82 245.32 C229.12 245.48 230.44 245.64 231.74 245.80 C233.05 245.96 234.34 246.13 235.65 246.30 C236.96 246.47 238.26 246.64 239.57 246.81 C240.88 246.98 242.18 247.16 243.48 247.34 C244.78 247.52 246.08 247.70 247.39 247.89 C248.69 248.07 250.00 248.26 251.31 248.45 C252.62 248.64 253.91 248.84 255.22 249.03 C256.52 249.22 257.83 249.42 259.14 249.62 C260.44 249.82 261.75 250.03 263.05 250.24 C264.35 250.45 265.65 250.65 266.96 250.86 C268.26 251.07 269.57 251.29 270.88 251.51 C272.19 251.73 273.49 251.95 274.79 252.17 C276.10 252.39 277.40 252.62 278.71 252.85 C280.01 253.08 281.31 253.31 282.62 253.55 C283.93 253.79 285.24 254.02 286.54 254.26 C287.85 254.50 289.15 254.74 290.45 254.99 C291.75 255.24 293.06 255.49 294.36 255.74 C295.67 255.99 296.97 256.24 298.28 256.50 C299.58 256.76 300.88 257.02 302.19 257.28 C303.50 257.54 304.81 257.81 306.11 258.08 C307.42 258.35 308.72 258.62 310.02 258.90 C311.32 259.17 312.62 259.45 313.93 259.73 C315.24 260.01 316.55 260.29 317.85 260.58 C319.16 260.87 320.45 261.15 321.76 261.44 C323.06 261.73 324.38 262.02 325.68 262.32 C326.99 262.62 328.28 262.92 329.59 263.22 C330.89 263.52 332.20 263.83 333.51 264.14 C334.81 264.45 336.12 264.76 337.42 265.07 C338.72 265.38 340.02 265.70 341.33 266.02 C342.63 266.34 343.94 266.66 345.25 266.98 C346.56 267.30 347.86 267.63 349.16 267.96 C350.47 268.29 351.77 268.62 353.08 268.95 C354.38 269.28 355.69 269.62 356.99 269.96 C358.29 270.30 359.59 270.64 360.90 270.99 C362.20 271.34 363.51 271.68 364.82 272.03 C366.12 272.38 367.43 272.73 368.73 273.08 C370.04 273.43 371.34 273.79 372.65 274.15 C373.95 274.51 375.26 274.87 376.56 275.23 C377.86 275.59 379.17 275.96 380.47 276.33 C381.78 276.70 383.08 277.07 384.39 277.44 C385.69 277.81 387.00 278.19 388.30 278.56 C389.61 278.94 390.92 279.31 392.22 279.69 C393.53 280.07 394.82 280.45 396.13 280.84 C397.44 281.22 398.75 281.61 400.05 282.00 C401.36 282.39 402.66 282.78 403.96 283.17 C405.26 283.56 406.56 283.95 407.87 284.35 C409.18 284.75 410.49 285.15 411.79 285.55 C413.10 285.95 414.39 286.35 415.70 286.75 C417.00 287.15 418.31 287.55 419.62 287.96 C420.93 288.37 422.23 288.78 423.53 289.19 C424.83 289.60 426.13 290.01 427.44 290.42 C428.75 290.83 430.06 291.25 431.36 291.66 C432.67 292.08 433.96 292.49 435.27 292.91 C436.57 293.33 437.88 293.74 439.19 294.16 C440.50 294.58 441.80 295.01 443.10 295.43 C444.41 295.85 445.71 296.27 447.02 296.69 C448.32 297.11 449.63 297.54 450.93 297.97 C452.23 298.40 453.53 298.82 454.84 299.25 C456.14 299.68 457.45 300.11 458.76 300.54 C460.06 300.97 461.37 301.40 462.67 301.83 C463.98 302.26 465.28 302.69 466.59 303.12 C467.89 303.55 469.85 304.20 470.50 304.41" stroke="#FFE600" stroke-width="0.9" stroke-dasharray="0.9 3.3" stroke-opacity="0.78"/>
<path d="M83.00 267.03 C83.29 267.08 84.15 267.24 84.73 267.34 C85.31 267.44 85.88 267.55 86.46 267.65 C87.04 267.75 87.62 267.86 88.20 267.96 C88.78 268.06 89.35 268.17 89.93 268.27 C90.51 268.37 91.08 268.48 91.66 268.58 C92.24 268.68 92.81 268.78 93.39 268.89 C93.97 269.00 94.55 269.10 95.13 269.21 C95.71 269.32 96.28 269.42 96.86 269.53 C97.44 269.64 98.01 269.74 98.59 269.85 C99.17 269.96 99.74 270.06 100.32 270.17 C100.90 270.28 101.48 270.38 102.06 270.49 C102.64 270.60 103.21 270.71 103.79 270.82 C104.37 270.93 104.94 271.04 105.52 271.15 C106.10 271.26 106.67 271.37 107.25 271.48 C107.83 271.59 108.40 271.70 108.98 271.81 C109.56 271.92 110.14 272.03 110.72 272.14 C111.30 272.25 111.87 272.37 112.45 272.48 C113.03 272.59 113.60 272.71 114.18 272.82 C114.76 272.93 115.33 273.05 115.91 273.16 C116.49 273.28 117.07 273.39 117.65 273.51 C118.23 273.62 118.80 273.74 119.38 273.85 C119.96 273.97 120.53 274.08 121.11 274.20 C121.69 274.32 122.26 274.44 122.84 274.56 C123.42 274.68 124.00 274.79 124.58 274.91 C125.16 275.03 125.73 275.15 126.31 275.27 C126.89 275.39 127.46 275.51 128.04 275.63 C128.62 275.75 129.19 275.87 129.77 275.99 C130.35 276.11 130.93 276.23 131.51 276.35 C132.09 276.47 132.66 276.60 133.24 276.72 C133.82 276.84 134.39 276.96 134.97 277.09 C135.55 277.21 136.12 277.35 136.70 277.47 C137.28 277.60 137.85 277.71 138.43 277.84 C139.01 277.96 139.59 278.09 140.17 278.22 C140.75 278.35 141.32 278.48 141.90 278.61 C142.48 278.74 143.05 278.86 143.63 278.99 C144.21 279.12 144.78 279.25 145.36 279.38 C145.94 279.51 146.52 279.65 147.10 279.78 C147.68 279.91 148.25 280.04 148.83 280.17 C149.41 280.30 149.98 280.44 150.56 280.57 C151.14 280.70 151.71 280.84 152.29 280.97 C152.87 281.11 153.45 281.24 154.03 281.38 C154.61 281.52 155.18 281.65 155.76 281.79 C156.34 281.93 156.91 282.06 157.49 282.20 C158.07 282.34 158.64 282.48 159.22 282.62 C159.80 282.76 160.37 282.90 160.95 283.04 C161.53 283.18 162.11 283.32 162.69 283.46 C163.27 283.60 163.84 283.75 164.42 283.89 C165.00 284.03 165.57 284.18 166.15 284.32 C166.73 284.46 167.30 284.62 167.88 284.76 C168.46 284.90 169.04 285.04 169.62 285.19 C170.20 285.34 170.77 285.49 171.35 285.64 C171.93 285.79 172.50 285.93 173.08 286.08 C173.66 286.23 174.23 286.38 174.81 286.53 C175.39 286.68 175.97 286.84 176.55 286.99 C177.13 287.14 177.70 287.30 178.28 287.45 C178.86 287.60 179.43 287.76 180.01 287.91 C180.59 288.06 181.16 288.21 181.74 288.37 C182.32 288.53 182.89 288.69 183.47 288.85 C184.05 289.01 184.63 289.16 185.21 289.32 C185.79 289.48 186.36 289.64 186.94 289.80 C187.52 289.96 188.09 290.12 188.67 290.28 C189.25 290.44 189.82 290.61 190.40 290.77 C190.98 290.93 191.56 291.09 192.14 291.26 C192.72 291.43 193.29 291.59 193.87 291.76 C194.45 291.93 195.02 292.09 195.60 292.26 C196.18 292.43 196.75 292.60 197.33 292.77 C197.91 292.94 198.49 293.11 199.07 293.28 C199.65 293.45 200.22 293.62 200.80 293.79 C201.38 293.96 201.95 294.13 202.53 294.31 C203.11 294.49 203.68 294.66 204.26 294.84 C204.84 295.02 205.41 295.19 205.99 295.37 C206.57 295.55 207.15 295.72 207.73 295.90 C208.31 296.08 208.88 296.26 209.46 296.44 C210.04 296.62 210.61 296.80 211.19 296.98 C211.77 297.16 212.34 297.34 212.92 297.53 C213.50 297.71 214.08 297.90 214.66 298.09 C215.24 298.27 215.81 298.45 216.39 298.64 C216.97 298.83 217.54 299.02 218.12 299.21 C218.70 299.40 219.27 299.59 219.85 299.78 C220.43 299.97 221.01 300.16 221.59 300.35 C222.17 300.54 222.74 300.74 223.32 300.93 C223.90 301.12 224.47 301.32 225.05 301.52 C225.63 301.72 226.20 301.91 226.78 302.11 C227.36 302.31 227.94 302.50 228.52 302.70 C229.10 302.90 229.67 303.10 230.25 303.30 C230.83 303.50 231.40 303.71 231.98 303.91 C232.56 304.11 233.13 304.31 233.71 304.52 C234.29 304.72 234.86 304.93 235.44 305.14 C236.02 305.35 236.60 305.55 237.18 305.76 C237.76 305.97 238.33 306.18 238.91 306.39 C239.49 306.60 240.06 306.81 240.64 307.02 C241.22 307.23 241.79 307.45 242.37 307.66 C242.95 307.88 243.53 308.09 244.11 308.31 C244.69 308.53 245.26 308.74 245.84 308.96 C246.42 309.18 246.99 309.40 247.57 309.62 C248.15 309.84 248.72 310.06 249.30 310.28 C249.88 310.50 250.46 310.73 251.04 310.95 C251.62 311.17 252.19 311.39 252.77 311.62 C253.35 311.85 254.21 312.19 254.50 312.31" stroke="#FFE600" stroke-width="0.9" stroke-dasharray="0.9 3.3" stroke-opacity="0.78"/>
<path d="M83.00 264.59 C83.65 264.63 85.61 264.76 86.91 264.86 C88.21 264.96 89.51 265.05 90.82 265.16 C92.12 265.27 93.43 265.41 94.74 265.54 C96.05 265.67 97.35 265.86 98.65 265.93 C99.95 266.00 101.26 265.97 102.56 265.98 C103.86 265.99 105.17 265.99 106.47 265.99 C107.77 265.99 109.07 265.98 110.38 265.98 C111.69 265.98 113.00 265.98 114.30 265.97 C115.60 265.96 116.91 265.95 118.21 265.94 C119.51 265.93 120.82 265.91 122.12 265.90 C123.42 265.89 124.73 265.87 126.03 265.86 C127.33 265.85 128.64 265.83 129.95 265.82 C131.25 265.81 132.56 265.79 133.86 265.78 C135.16 265.77 136.47 265.76 137.77 265.74 C139.07 265.72 140.38 265.71 141.68 265.68 C142.98 265.65 144.28 265.61 145.59 265.58 C146.90 265.55 148.20 265.52 149.51 265.51 C150.81 265.50 152.12 265.50 153.42 265.51 C154.72 265.51 156.03 265.53 157.33 265.54 C158.63 265.55 159.94 265.56 161.24 265.58 C162.54 265.59 163.84 265.61 165.15 265.63 C166.46 265.65 167.76 265.66 169.07 265.68 C170.38 265.70 171.68 265.71 172.98 265.73 C174.28 265.75 175.59 265.77 176.89 265.79 C178.19 265.81 179.50 265.83 180.80 265.85 C182.11 265.87 183.41 265.90 184.72 265.93 C186.03 265.96 187.33 265.98 188.63 266.01 C189.93 266.04 191.24 266.07 192.54 266.11 C193.84 266.15 195.15 266.18 196.45 266.22 C197.75 266.26 199.06 266.31 200.36 266.35 C201.67 266.40 202.97 266.44 204.28 266.49 C205.59 266.54 206.89 266.58 208.19 266.63 C209.49 266.68 210.80 266.74 212.10 266.79 C213.40 266.84 214.71 266.90 216.01 266.95 C217.31 267.00 218.61 267.05 219.92 267.11 C221.22 267.17 222.53 267.23 223.84 267.29 C225.15 267.35 226.45 267.41 227.75 267.47 C229.05 267.53 230.36 267.60 231.66 267.66 C232.96 267.73 234.27 267.79 235.57 267.86 C236.87 267.93 238.17 267.99 239.48 268.06 C240.78 268.13 242.09 268.21 243.40 268.28 C244.71 268.35 246.01 268.43 247.31 268.50 C248.61 268.57 249.92 268.64 251.22 268.72 C252.52 268.80 253.82 268.88 255.13 268.96 C256.44 269.04 257.75 269.12 259.05 269.20 C260.36 269.28 261.66 269.37 262.96 269.45 C264.26 269.53 265.57 269.62 266.87 269.71 C268.17 269.80 269.48 269.89 270.78 269.98 C272.08 270.07 273.38 270.16 274.69 270.25 C276.00 270.34 277.31 270.44 278.61 270.54 C279.92 270.64 281.22 270.73 282.52 270.83 C283.82 270.93 285.13 271.03 286.43 271.13 C287.73 271.23 289.04 271.33 290.34 271.43 C291.64 271.53 292.94 271.64 294.25 271.75 C295.56 271.86 296.87 271.96 298.17 272.07 C299.48 272.18 300.78 272.29 302.08 272.40 C303.38 272.51 304.69 272.62 305.99 272.74 C307.29 272.86 308.59 272.97 309.90 273.09 C311.20 273.21 312.51 273.32 313.82 273.44 C315.12 273.56 316.43 273.69 317.73 273.81 C319.03 273.93 320.34 274.06 321.64 274.18 C322.94 274.31 324.25 274.43 325.55 274.56 C326.85 274.69 328.15 274.82 329.46 274.95 C330.76 275.08 332.07 275.22 333.38 275.35 C334.69 275.49 335.99 275.62 337.29 275.76 C338.59 275.90 339.90 276.03 341.20 276.17 C342.50 276.31 343.81 276.46 345.11 276.60 C346.41 276.74 347.71 276.88 349.02 277.03 C350.32 277.17 351.63 277.32 352.94 277.47 C354.25 277.62 355.55 277.77 356.85 277.92 C358.15 278.07 359.46 278.23 360.76 278.38 C362.06 278.53 363.37 278.69 364.67 278.85 C365.97 279.01 367.27 279.17 368.58 279.33 C369.88 279.49 371.19 279.65 372.50 279.81 C373.81 279.97 375.11 280.14 376.41 280.31 C377.71 280.48 379.02 280.64 380.32 280.81 C381.62 280.98 382.93 281.15 384.23 281.32 C385.54 281.49 386.84 281.67 388.15 281.85 C389.45 282.03 390.76 282.20 392.06 282.38 C393.36 282.56 394.67 282.74 395.97 282.92 C397.27 283.10 398.58 283.29 399.88 283.47 C401.18 283.65 402.49 283.83 403.79 284.02 C405.10 284.21 406.40 284.40 407.71 284.59 C409.01 284.78 410.32 284.98 411.62 285.17 C412.92 285.36 414.23 285.55 415.53 285.75 C416.83 285.95 418.14 286.15 419.44 286.35 C420.74 286.55 422.05 286.76 423.35 286.96 C424.66 287.16 425.96 287.37 427.27 287.57 C428.57 287.77 429.88 287.98 431.18 288.19 C432.48 288.40 433.79 288.62 435.09 288.83 C436.39 289.04 437.69 289.25 439.00 289.47 C440.31 289.69 441.62 289.90 442.92 290.12 C444.23 290.34 445.53 290.57 446.83 290.79 C448.13 291.01 449.44 291.24 450.74 291.46 C452.04 291.68 453.35 291.91 454.65 292.14 C455.95 292.37 457.25 292.60 458.56 292.83 C459.87 293.06 461.18 293.29 462.48 293.53 C463.79 293.77 465.09 294.01 466.39 294.25 C467.69 294.49 469.65 294.85 470.30 294.97" stroke="#FF9900" stroke-width="0.9" stroke-dasharray="0.9 3.3" stroke-opacity="0.78"/>
<path d="M83.00 282.70 C83.35 282.73 84.41 282.81 85.11 282.87 C85.81 282.93 86.52 282.98 87.22 283.04 C87.92 283.10 88.63 283.16 89.33 283.22 C90.03 283.28 90.73 283.33 91.44 283.39 C92.14 283.45 92.86 283.51 93.56 283.57 C94.27 283.63 94.97 283.69 95.67 283.75 C96.37 283.81 97.08 283.87 97.78 283.93 C98.48 283.99 99.19 284.06 99.89 284.12 C100.59 284.18 101.30 284.25 102.00 284.31 C102.70 284.37 103.41 284.44 104.11 284.50 C104.81 284.56 105.52 284.63 106.22 284.69 C106.92 284.75 107.63 284.81 108.33 284.88 C109.03 284.94 109.73 285.01 110.44 285.08 C111.14 285.14 111.86 285.20 112.56 285.27 C113.27 285.34 113.97 285.41 114.67 285.48 C115.37 285.55 116.08 285.61 116.78 285.68 C117.48 285.75 118.19 285.81 118.89 285.88 C119.59 285.95 120.30 286.02 121.00 286.09 C121.70 286.16 122.41 286.23 123.11 286.30 C123.81 286.37 124.52 286.44 125.22 286.51 C125.92 286.58 126.63 286.66 127.33 286.73 C128.03 286.80 128.73 286.88 129.44 286.95 C130.15 287.02 130.86 287.09 131.56 287.16 C132.26 287.23 132.97 287.31 133.67 287.39 C134.37 287.46 135.08 287.54 135.78 287.61 C136.48 287.69 137.19 287.76 137.89 287.84 C138.59 287.92 139.30 287.99 140.00 288.07 C140.70 288.15 141.41 288.22 142.11 288.30 C142.81 288.38 143.52 288.45 144.22 288.53 C144.92 288.61 145.63 288.69 146.33 288.77 C147.03 288.85 147.74 288.93 148.44 289.01 C149.14 289.09 149.86 289.17 150.56 289.25 C151.26 289.33 151.97 289.42 152.67 289.50 C153.37 289.58 154.08 289.67 154.78 289.75 C155.48 289.83 156.19 289.92 156.89 290.00 C157.59 290.08 158.30 290.17 159.00 290.25 C159.70 290.33 160.41 290.42 161.11 290.50 C161.81 290.58 162.52 290.67 163.22 290.76 C163.92 290.85 164.63 290.93 165.33 291.02 C166.03 291.11 166.74 291.20 167.44 291.29 C168.14 291.38 168.86 291.46 169.56 291.55 C170.26 291.64 170.97 291.73 171.67 291.82 C172.37 291.91 173.08 292.00 173.78 292.09 C174.48 292.18 175.19 292.28 175.89 292.37 C176.59 292.46 177.30 292.55 178.00 292.64 C178.70 292.73 179.41 292.83 180.11 292.92 C180.81 293.01 181.52 293.12 182.22 293.21 C182.92 293.30 183.63 293.39 184.33 293.49 C185.03 293.59 185.74 293.68 186.44 293.78 C187.14 293.88 187.86 293.97 188.56 294.07 C189.26 294.17 189.97 294.27 190.67 294.37 C191.37 294.47 192.08 294.56 192.78 294.66 C193.48 294.76 194.19 294.86 194.89 294.96 C195.59 295.06 196.30 295.16 197.00 295.26 C197.70 295.36 198.41 295.47 199.11 295.57 C199.81 295.67 200.52 295.78 201.22 295.88 C201.92 295.98 202.63 296.08 203.33 296.19 C204.03 296.30 204.74 296.40 205.44 296.51 C206.14 296.62 206.86 296.71 207.56 296.82 C208.26 296.93 208.97 297.03 209.67 297.14 C210.37 297.25 211.08 297.36 211.78 297.47 C212.48 297.58 213.19 297.68 213.89 297.79 C214.59 297.90 215.30 298.01 216.00 298.12 C216.70 298.23 217.41 298.35 218.11 298.46 C218.81 298.57 219.52 298.68 220.22 298.79 C220.92 298.90 221.63 299.02 222.33 299.13 C223.03 299.24 223.74 299.36 224.44 299.47 C225.14 299.59 225.86 299.70 226.56 299.82 C227.26 299.94 227.97 300.05 228.67 300.17 C229.37 300.29 230.08 300.40 230.78 300.52 C231.48 300.64 232.19 300.75 232.89 300.87 C233.59 300.99 234.30 301.11 235.00 301.23 C235.70 301.35 236.41 301.47 237.11 301.59 C237.81 301.71 238.52 301.84 239.22 301.96 C239.92 302.08 240.63 302.20 241.33 302.32 C242.03 302.44 242.74 302.56 243.44 302.69 C244.14 302.81 244.86 302.94 245.56 303.07 C246.26 303.20 246.97 303.32 247.67 303.45 C248.37 303.58 249.08 303.70 249.78 303.83 C250.48 303.96 251.19 304.08 251.89 304.21 C252.59 304.34 253.30 304.47 254.00 304.60 C254.70 304.73 255.41 304.86 256.11 304.99 C256.81 305.12 257.52 305.25 258.22 305.38 C258.92 305.51 259.63 305.65 260.33 305.78 C261.03 305.91 261.74 306.05 262.44 306.18 C263.14 306.31 263.86 306.45 264.56 306.59 C265.26 306.72 265.97 306.85 266.67 306.99 C267.37 307.13 268.08 307.27 268.78 307.41 C269.48 307.55 270.19 307.68 270.89 307.82 C271.59 307.96 272.30 308.10 273.00 308.24 C273.70 308.38 274.41 308.52 275.11 308.66 C275.81 308.80 276.52 308.95 277.22 309.09 C277.92 309.23 278.63 309.37 279.33 309.51 C280.03 309.65 280.74 309.81 281.44 309.95 C282.14 310.09 282.86 310.24 283.56 310.38 C284.26 310.52 284.97 310.67 285.67 310.82 C286.37 310.97 287.08 311.11 287.78 311.26 C288.48 311.41 289.19 311.56 289.89 311.71 C290.59 311.86 291.65 312.09 292.00 312.16" stroke="#FF9900" stroke-width="0.9" stroke-dasharray="0.9 3.3" stroke-opacity="0.78"/>
</g>
<g font-family="'Liberation Serif', serif" font-style="italic" font-size="20px" fill="#000" mask="url(#m)">
<text x="83.00" y="337.60" text-anchor="middle">2</text>
<text x="160.50" y="337.60" text-anchor="middle">4</text>
<text x="238.00" y="337.60" text-anchor="middle">6</text>
<text x="315.50" y="337.60" text-anchor="middle">8</text>
<text x="393.00" y="337.60" text-anchor="middle">10</text>
<text x="470.50" y="337.60" text-anchor="middle">12</text>
<text x="35.70" y="281.34" text-anchor="end">0.5</text>
<text x="35.70" y="243.95" text-anchor="end">1</text>
<text x="35.70" y="206.56" text-anchor="end">1.5</text>
<text x="35.70" y="169.17" text-anchor="end">2</text>
<text x="35.70" y="131.78" text-anchor="end">2.5</text>
<text x="35.70" y="94.39" text-anchor="end">3</text>
<text x="35.70" y="57.00" text-anchor="end">3.5</text>
<text x="35.70" y="19.61" text-anchor="end">4</text>
</g>
</svg>
</body></html>
